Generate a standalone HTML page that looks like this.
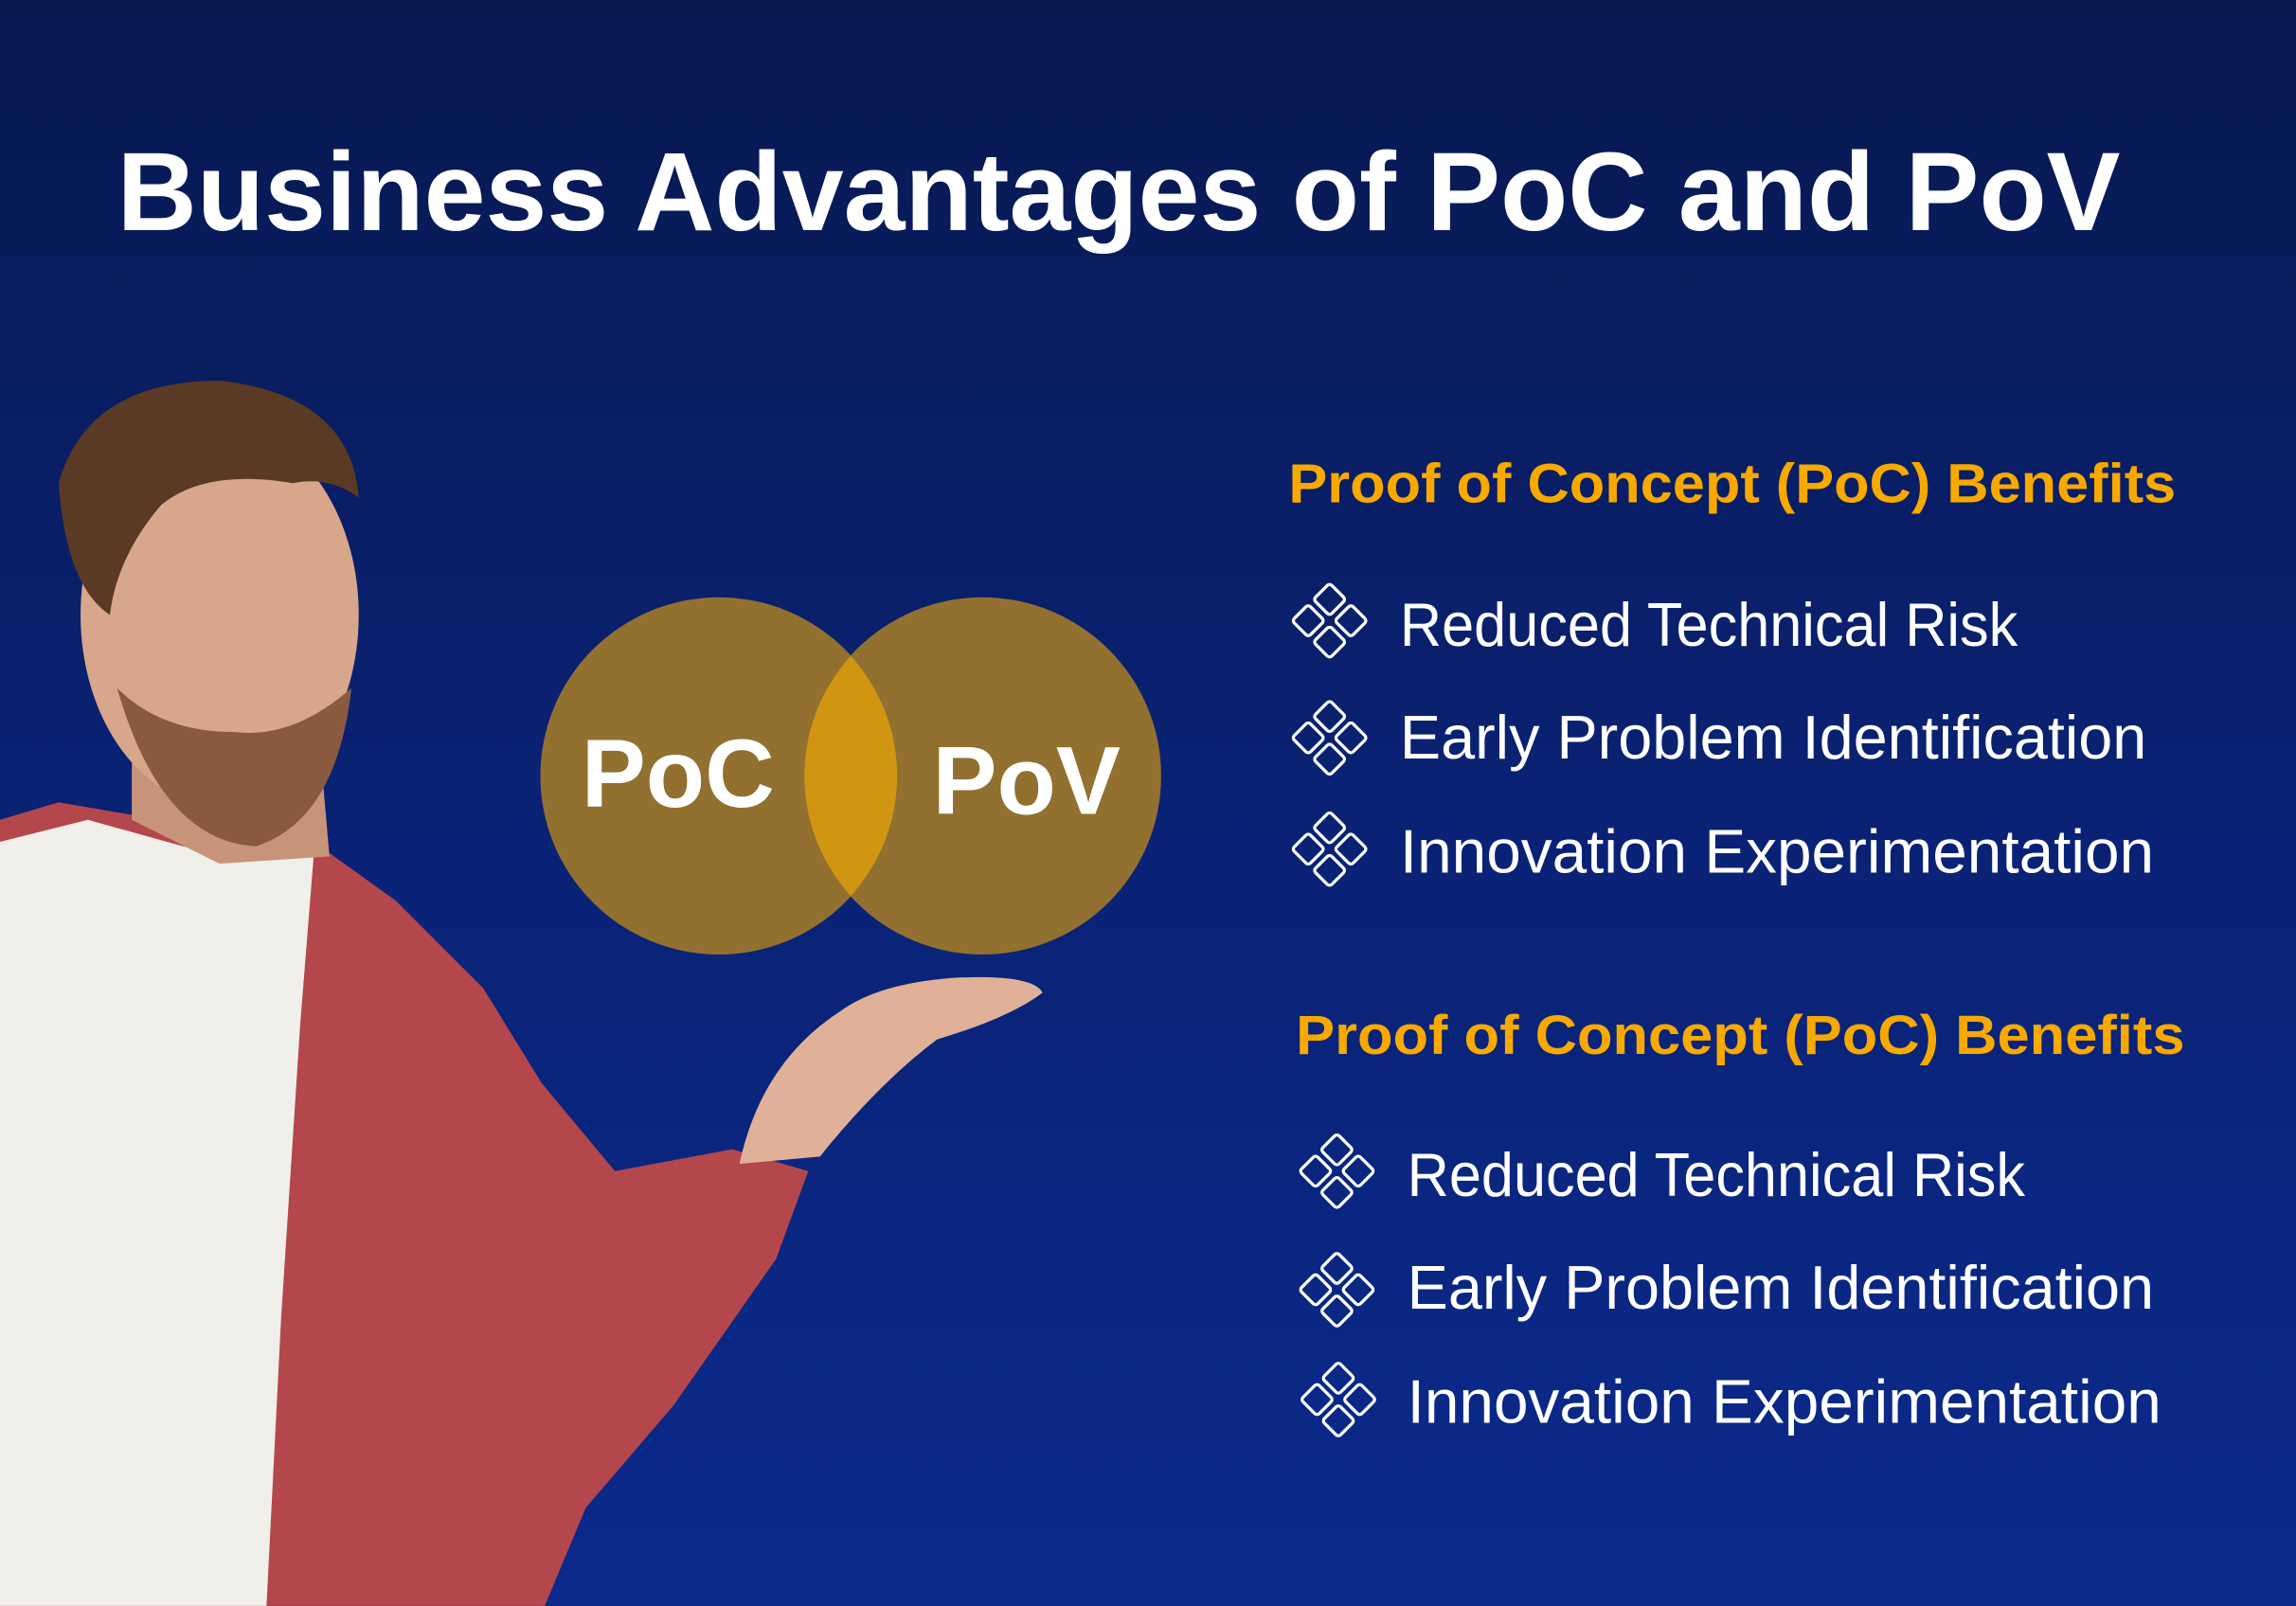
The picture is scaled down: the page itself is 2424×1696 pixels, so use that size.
<!DOCTYPE html>
<html><head><meta charset="utf-8"><style>
html,body{margin:0;padding:0;width:2424px;height:1696px;overflow:hidden;background:#0a1a55}
svg{display:block}
text{font-family:"Liberation Sans",sans-serif}
</style></head><body>
<svg width="2424" height="1696" viewBox="0 0 1568 1097">
<defs>
<linearGradient id="bg" x1="0" y1="0" x2="0" y2="1">
<stop offset="0" stop-color="#08184f"/><stop offset="0.5" stop-color="#0a2274"/><stop offset="1" stop-color="#0b2a8c"/>
</linearGradient>
<g id="ico" transform="scale(1.12)">
<rect x="-7" y="-7" width="14" height="14" rx="2" transform="translate(0,-13) rotate(45)" fill="none" stroke="#fff" stroke-width="1.9"/>
<rect x="-7" y="-7" width="14" height="14" rx="2" transform="translate(0,13) rotate(45)" fill="none" stroke="#fff" stroke-width="1.9"/>
<rect x="-7" y="-7" width="14" height="14" rx="2" transform="translate(-13,0) rotate(45)" fill="none" stroke="#fff" stroke-width="1.9"/>
<rect x="-7" y="-7" width="14" height="14" rx="2" transform="translate(13,0) rotate(45)" fill="none" stroke="#fff" stroke-width="1.9"/>
</g>
</defs>
<rect width="1568" height="1097" fill="url(#bg)"/>
<text x="80" y="157" font-size="76" font-weight="bold" fill="#fff" textLength="1368" lengthAdjust="spacingAndGlyphs">Business Advantages of PoC and PoV</text>

<g>
<path d="M0,560 L40,548 L110,560 L210,572 L270,615 L330,675 L370,740 L420,800 L500,785 L552,800 L530,860 L460,960 L400,1030 L372,1097 L0,1097Z" fill="#b4474c"/>
<path d="M0,575 L60,560 L150,585 L215,575 L205,700 L192,900 L182,1097 L0,1097Z" fill="#f1efe9"/>
<path d="M90,470 L215,470 L225,585 L150,590 L90,560Z" fill="#c89479"/>
<ellipse cx="150" cy="420" rx="95" ry="130" fill="#d7a68b"/>
<path d="M80,470 Q110,575 175,578 Q230,560 240,470 Q200,505 160,500 Q110,500 80,470Z" fill="#8a5a40"/>
<path d="M40,330 Q60,260 150,260 Q240,270 245,340 Q225,325 200,330 Q140,320 110,345 Q80,380 75,420 Q45,400 40,330Z" fill="#5a3a24"/>
<path d="M505,795 Q520,725 575,690 Q600,672 650,668 Q705,665 712,678 Q690,695 640,710 Q600,740 560,790Z" fill="#e1b098"/>
</g>

<g>
<circle cx="491" cy="530" r="122" fill="#917030"/>
<circle cx="671" cy="530" r="122" fill="#917030"/>
<path d="M581,448 A122,122 0 0 1 581,612 A122,122 0 0 1 581,448Z" fill="#d09612"/>
<text x="463" y="551" font-size="66" font-weight="bold" fill="#fff" text-anchor="middle">PoC</text>
<text x="701" y="556" font-size="66" font-weight="bold" fill="#fff" text-anchor="middle">PoV</text>
</g>

<g>
<text x="880" y="343" font-size="38" font-weight="bold" fill="#f7a900" textLength="606" lengthAdjust="spacingAndGlyphs">Proof of Concept (PoC) Benefits</text>
<use href="#ico" x="908" y="424"/>
<text x="956" y="441" font-size="42" fill="#fff" textLength="422" lengthAdjust="spacingAndGlyphs">Reduced Technical Risk</text>
<use href="#ico" x="908" y="504"/>
<text x="956" y="518" font-size="42" fill="#fff" textLength="510" lengthAdjust="spacingAndGlyphs">Early Problem Identification</text>
<use href="#ico" x="908" y="580"/>
<text x="956" y="596" font-size="42" fill="#fff" textLength="515" lengthAdjust="spacingAndGlyphs">Innovation Experimentation</text>
</g>

<g>
<text x="885" y="720" font-size="38" font-weight="bold" fill="#f7a900" textLength="607" lengthAdjust="spacingAndGlyphs">Proof of Concept (PoC) Benefits</text>
<use href="#ico" x="913" y="800"/>
<text x="961" y="817" font-size="42" fill="#fff" textLength="422" lengthAdjust="spacingAndGlyphs">Reduced Technical Risk</text>
<use href="#ico" x="913" y="881"/>
<text x="961" y="894" font-size="42" fill="#fff" textLength="510" lengthAdjust="spacingAndGlyphs">Early Problem Identification</text>
<use href="#ico" x="914" y="956"/>
<text x="961" y="972" font-size="42" fill="#fff" textLength="515" lengthAdjust="spacingAndGlyphs">Innovation Experimentation</text>
</g>
</svg>
</body></html>
